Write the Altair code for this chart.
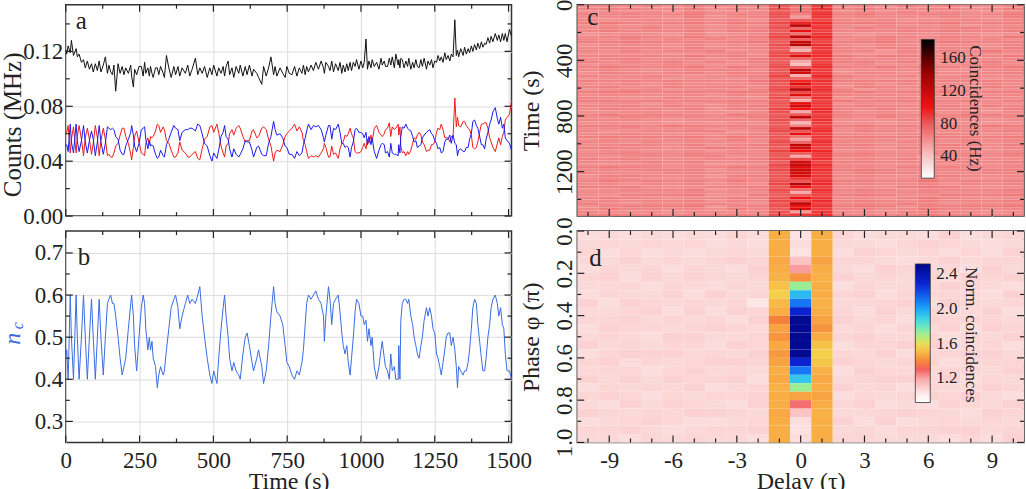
import altair as alt
import pandas as pd

FONT = "Liberation Serif"
INK = "#222222"

# ---------------- (a) and (b): time traces ----------------
nc_t = [0, 3, 8, 15, 19, 26, 35, 39, 45, 53,
        60, 66, 73, 80, 87, 93, 100, 107, 113, 119,
        127, 134, 141, 146, 152, 158, 163, 169, 177, 184,
        191, 197, 203, 212, 220, 223, 229, 233, 240, 248,
        256, 262, 267, 271, 278, 283, 287, 292, 296, 304,
        310, 315, 321, 330, 334, 341, 349, 357, 366, 372,
        380, 386, 394, 405, 413, 420, 428, 439, 447, 454,
        462, 470, 479, 488, 495, 501, 512, 518, 526, 533,
        538, 543, 550, 555, 563, 569, 577, 586, 591, 600,
        608, 614, 622, 631, 636, 647, 653, 664, 670, 679,
        687, 695, 704, 709, 715, 726, 735, 743, 749, 757,
        766, 775, 783, 791, 800, 805, 811, 816, 822, 831,
        839, 847, 856, 865, 873, 876, 881, 890, 895, 901,
        907, 914, 923, 929, 935, 940, 946, 952, 957, 963,
        968, 974, 980, 985, 993, 1000, 1006, 1011, 1017, 1022,
        1027, 1034, 1038, 1045, 1053, 1061, 1068, 1072, 1079, 1083,
        1090, 1096, 1101, 1106, 1113, 1118, 1126, 1128, 1132, 1135,
        1140, 1146, 1152, 1158, 1162, 1169, 1175, 1180, 1186, 1191,
        1197, 1203, 1208, 1214, 1222, 1227, 1233, 1239, 1244, 1250,
        1256, 1261, 1267, 1272, 1278, 1284, 1289, 1295, 1301, 1306,
        1312, 1318, 1323, 1327, 1331, 1338, 1346, 1351, 1357, 1363,
        1368, 1374, 1379, 1385, 1391, 1396, 1402, 1408, 1413, 1419,
        1424, 1430, 1436, 1441, 1447, 1455, 1462, 1467, 1473, 1479,
        1484, 1489, 1495, 1503, 1510]

nc_v = [.45, .47, .40, .60, .50, .40, .60, .50, .40, .50,
        .60, .50, .40, .50, .59, .50, .40, .50, .59, .50,
        .41, .50, .58, .59, .60, .58, .58, .55, .50, .45,
        .41, .43, .45, .52, .58, .60, .55, .48, .42, .50,
        .57, .60, .58, .52, .47, .50, .47, .49, .45, .43,
        .38, .41, .43, .41, .42, .47, .52, .57, .59, .60,
        .57, .52, .55, .58, .60, .58, .59, .58, .60, .62,
        .55, .50, .45, .41, .39, .42, .39, .45, .52, .57,
        .60, .55, .50, .45, .42, .44, .42, .41, .40, .46,
        .50, .51, .48, .44, .42, .45, .47, .43, .39, .42,
        .48, .55, .62, .58, .56, .55, .53, .48, .44, .43,
        .41, .40, .42, .41, .44, .47, .53, .58, .60, .59,
        .60, .61, .59, .58, .55, .49, .55, .62, .59, .53,
        .58, .59, .60, .56, .51, .48, .46, .48, .44, .41,
        .45, .50, .56, .59, .58, .55, .55, .53, .54, .49,
        .52, .48, .50, .43, .40, .43, .47, .49, .45, .43,
        .42, .40, .46, .42, .43, .40, .40, .48, .40, .54,
        .58, .59, .59, .58, .59, .55, .53, .50, .48, .46,
        .45, .48, .50, .54, .57, .55, .57, .55, .52, .51,
        .46, .45, .43, .41, .44, .47, .50, .51, .51, .48,
        .50, .47, .43, .38, .43, .42, .41, .42, .42, .44,
        .47, .52, .57, .59, .58, .53, .49, .45, .42, .42,
        .45, .50, .53, .57, .59, .60, .58, .55, .57, .53,
        .52, .46, .42, .42, .40]

# counts in kHz (shown in MHz)
blue_khz = [51, 52, 47, 67, 54, 46, 67, 55, 47, 55,
            66, 54, 46, 55, 62, 56, 44, 54, 66, 54,
            45, 53, 65, 64, 63, 64, 63, 58, 56, 48,
            45, 45, 51, 56, 61, 66, 59, 51, 47, 53,
            63, 64, 65, 56, 49, 55, 51, 52, 51, 45,
            42, 43, 48, 44, 43, 52, 56, 61, 66, 64,
            63, 55, 61, 63, 63, 64, 64, 62, 67, 66,
            60, 53, 51, 44, 40, 46, 42, 48, 58, 61,
            66, 58, 56, 49, 43, 49, 45, 43, 45, 49,
            55, 54, 54, 48, 43, 50, 51, 45, 44, 44,
            53, 58, 69, 63, 59, 60, 57, 51, 50, 45,
            45, 42, 47, 44, 46, 52, 57, 62, 67, 63,
            66, 65, 66, 63, 57, 54, 59, 66, 66, 56,
            64, 63, 67, 61, 53, 53, 50, 51, 50, 43,
            50, 54, 63, 64, 61, 61, 60, 57, 61, 52,
            58, 52, 57, 47, 42, 48, 52, 53, 52, 46,
            47, 43, 53, 46, 45, 45, 44, 52, 46, 58,
            65, 64, 67, 64, 63, 62, 58, 54, 55, 50,
            51, 52, 57, 59, 61, 62, 63, 60, 59, 55,
            53, 49, 50, 46, 47, 54, 56, 56, 59, 53,
            59, 53, 52, 44, 48, 49, 47, 47, 50, 50,
            56, 60, 69, 70, 66, 64, 58, 52, 52, 49,
            56, 61, 67, 70, 76, 79, 71, 67, 72, 64,
            67, 57, 55, 53, 48]

red_khz = [62, 61, 66, 46, 56, 65, 46, 58, 66, 56,
           44, 57, 64, 56, 45, 53, 66, 57, 44, 55,
           64, 56, 44, 45, 43, 43, 46, 51, 53, 59,
           64, 64, 58, 53, 45, 41, 50, 58, 62, 54,
           46, 45, 44, 53, 57, 52, 58, 57, 58, 62,
           67, 66, 61, 65, 63, 55, 53, 48, 43, 43,
           46, 54, 48, 46, 43, 43, 45, 47, 42, 41,
           49, 56, 58, 65, 66, 61, 67, 61, 51, 46,
           43, 51, 53, 60, 63, 59, 64, 66, 64, 58,
           54, 55, 55, 62, 63, 57, 58, 64, 65, 63,
           56, 51, 40, 46, 48, 47, 52, 58, 60, 62,
           64, 67, 62, 65, 61, 55, 52, 47, 42, 44,
           43, 44, 43, 46, 49, 53, 50, 43, 43, 51,
           45, 46, 42, 49, 53, 54, 59, 58, 60, 64,
           60, 57, 47, 46, 46, 47, 50, 53, 49, 56,
           53, 59, 54, 64, 66, 61, 59, 58, 60, 63,
           64, 68, 58, 65, 63, 64, 67, 59, 65, 51,
           46, 47, 44, 47, 45, 48, 53, 57, 56, 59,
           61, 59, 54, 52, 47, 48, 48, 52, 52, 54,
           61, 64, 63, 67, 63, 57, 57, 57, 54, 58,
           58, 86, 65, 72, 66, 65, 69, 69, 66, 64,
           63, 59, 50, 49, 50, 54, 61, 67, 67, 68,
           68, 64, 57, 54, 50, 47, 53, 57, 52, 58,
           61, 70, 72, 74, 84]

black_khz = [121, 118, 124, 119, 128, 117, 122, 116, 118, 112,
             114, 108, 113, 107, 111, 105, 111, 106, 113, 105,
             110, 116, 104, 110, 105, 103, 110, 91, 111, 104,
             109, 103, 108, 104, 110, 102, 94, 107, 103, 109,
             109, 102, 112, 104, 108, 102, 109, 104, 101, 108,
             108, 103, 109, 104, 101, 117, 108, 101, 109, 103,
             109, 102, 108, 104, 110, 102, 107, 115, 103, 108,
             104, 109, 101, 108, 103, 110, 102, 108, 104, 109,
             102, 109, 113, 103, 108, 101, 109, 104, 110, 102,
             109, 103, 110, 102, 107, 104, 101, 96, 109, 102,
             108, 116, 103, 109, 102, 108, 104, 101, 109, 104,
             103, 109, 102, 108, 104, 110, 103, 109, 105, 110,
             106, 112, 107, 113, 108, 104, 112, 109, 106, 113,
             105, 111, 106, 112, 104, 110, 105, 111, 106, 112,
             106, 112, 109, 114, 107, 113, 108, 112, 129, 107,
             113, 108, 114, 109, 112, 107, 115, 110, 113, 109,
             109, 115, 110, 116, 108, 118, 110, 114, 108, 115,
             114, 108, 113, 109, 115, 107, 112, 108, 114, 109,
             108, 114, 109, 115, 107, 113, 110, 114, 108, 113,
             112, 117, 113, 116, 112, 119, 114, 117, 113, 118,
             116, 143, 117, 121, 116, 122, 117, 123, 118, 122,
             119, 124, 120, 125, 121, 126, 122, 127, 123, 126,
             125, 130, 126, 131, 127, 133, 128, 132, 127, 133,
             128, 133, 127, 136, 131]

time_major = [0, 250, 500, 750, 1000, 1250, 1500]
time_minor = [125, 375, 625, 875, 1125, 1375]
a_y_major = [0.00, 0.04, 0.08, 0.12]
a_y_minor = [0.02, 0.06, 0.10, 0.14]
b_y_major = [0.3, 0.4, 0.5, 0.6, 0.7]
b_y_minor = [0.35, 0.45, 0.55, 0.65]

# ---------------- (c): coincidences vs delay and time (20 s rows) ----------------
delays = list(range(-10, 11))
c_row_s = 20
# background columns (delays -10..-2 and 2..10), one digit per cell: Hz = 54 + 2*digit
c_bg_rows = [
    "454536445453645435", "565446354564455346", "343425334343534324", "656557465675566457",
    "445436345454435436", "534545453545344545", "676567576676567566", "343434243435334234",
    "454645355464545645", "565556466555656556", "234325234323434323", "456547456546546547",
    "545454545456455454", "667656567667567656", "344435344435434435", "455546455546545546",
    "546455634552546475", "334323453322433343", "565657564757665657", "456445356544456345",
    "645564546664645464", "343454234453343554", "576567476657576467", "454345554344453345",
    "365456465355364456", "544543455644543544", "233423324432234423", "656565557666656565",
    "445354445453544354", "564465564365465465", "345534435624345434", "677566576675667566",
    "454445354545454445", "543354443354534354", "665656566756665646", "344243354343344243",
    "556465456565556465", "465546365546465536", "334434324534343424", "575665476656575765",
    "446545446546445545", "555434555443554434", "343323243332353323", "666576565675656576",
    "455445356454465445", "534556634465534556", "445434345443455434", "676667576676686667",
    "354445364454354545", "543534443543553534", "456546356564466546", "665545765554655545",
    "344334244343354334", "565657465675575657", "434545534554424545", "656444556454646444",
    "545656445665555656", "333434233443343434", "676545576554666545", "455666355676465666",
    "544455444465554455", "366545266554376545", "454334354343464334", "575656475665585656",
    "443545343554453545", "666434566443676434", "345556245565355556", "554445454454564445",
    "436667336676446667", "565434465443575434", "454556354565464556", "643445543454653445",
    "356667256676366667", "465545365554475545", "544434444443554434", "676656676665676656",
]
c_m1 = [80, 82, 79, 84, 81, 78, 85, 80, 83, 79, 82, 86, 80, 78, 84, 81, 79, 83, 85, 80,
        78, 82, 84, 80, 81, 86, 79, 83, 80, 82, 85, 79, 81, 84, 78, 82, 80, 86, 83, 79,
        81, 84, 80, 78, 83, 85, 79, 82, 80, 84, 81, 79, 86, 82, 80, 83, 78, 84, 81, 85,
        80, 82, 79, 83, 86, 80, 84, 81, 78, 82, 85, 80, 83, 79, 82, 84]
c_0 = [70, 68, 72, 66, 55, 80, 95, 125, 75, 105, 70, 125, 80, 120, 130, 60, 48, 85, 110, 75,
       50, 42, 80, 125, 115, 48, 75, 95, 110, 90, 130, 85, 110, 70, 50, 105, 115, 100, 50, 80,
       125, 75, 45, 65, 125, 80, 105, 70, 55, 75, 125, 115, 100, 80, 50, 85, 115, 120, 110, 118,
       115, 112, 90, 80, 130, 100, 75, 50, 80, 100, 85, 125, 100, 110, 55, 90]
c_p1 = [88, 90, 87, 92, 89, 86, 93, 88, 91, 87, 90, 94, 88, 86, 92, 89, 87, 91, 93, 88,
        86, 90, 92, 88, 89, 94, 87, 91, 88, 90, 93, 87, 89, 92, 86, 90, 88, 94, 91, 87,
        89, 92, 88, 86, 91, 93, 87, 90, 88, 92, 89, 87, 94, 90, 88, 91, 86, 92, 89, 93,
        88, 90, 87, 91, 94, 88, 92, 89, 86, 90, 93, 88, 91, 87, 90, 92]
c_y_major = [0, 400, 800, 1200]
c_y_minor = [200, 600, 1000, 1400]
c_legend_values = [40, 80, 120, 160]

# ---------------- (d): normalised coincidences vs delay and phase (0.04 pi rows) ----------------
d_row = 0.04
# background columns, one digit per cell: value = 1.03 + 0.01*digit
d_bg_rows = [
    "343434353534436345", "454545343443565434", "535343454365453536", "446454565554346455",
    "354535436436545364", "563646545645453656", "445354354354446543", "354463645563545436",
    "636545451445636545", "445636365536454463", "556454536645365554", "365545654453546365",
    "454366445564453546", "645455365355664453", "356664546546355664", "563545665654563455",
    "455356454365445546", "646465563456646354", "354546345645354465", "565354556354565643",
    "436465436563436546", "654546654445654365", "345653345636345454", "556434556453556645",
    "443545443554443536",
]
d_m1 = [1.47, 1.47, 1.47, 1.46, 1.47, 1.48, 1.52, 1.55, 1.50, 1.47, 1.38, 1.45, 1.42,
        1.46, 1.43, 1.45, 1.47, 1.46, 1.48, 1.47, 1.47, 1.46, 1.47, 1.47, 1.47]
d_0 = [1.05, 1.06, 1.05, 1.12, 1.22, 1.42, 1.72, 1.95, 2.10, 2.30, 2.50, 2.50, 2.50,
       2.50, 2.50, 2.30, 2.10, 1.92, 1.72, 1.45, 1.28, 1.12, 1.06, 1.05, 1.06]
d_p1 = [1.47, 1.47, 1.47, 1.45, 1.47, 1.48, 1.47, 1.47, 1.48, 1.47, 1.45, 1.42, 1.47,
        1.52, 1.55, 1.53, 1.48, 1.46, 1.47, 1.45, 1.47, 1.48, 1.47, 1.47, 1.47]
d_y_major = [0.0, 0.2, 0.4, 0.6, 0.8, 1.0]
d_y_minor = [0.1, 0.3, 0.5, 0.7, 0.9]
d_legend_values = [1.2, 1.6, 2.0, 2.4]

delay_major = [-9, -6, -3, 0, 3, 6, 9]
delay_minor = [-10, -8, -7, -5, -4, -2, -1, 1, 2, 4, 5, 7, 8, 10]

panel_letters = ["a", "b", "c", "d"]

# ---------------- sizes ----------------
WL, WR, H = 447, 448, 212
LAB = 23      # tick label size
TIT = 24      # axis title size
PLAIN = "'' + datum.value"   # plain numbers, hyphen minus, no thousands separator


def inner_ticks(xscale, yscale, W, Hh, xmaj, xmin, ymaj, ymin):
    layers = []
    for vals, L in ((xmaj, 7), (xmin, 4)):
        base = alt.Chart(pd.DataFrame({"tv": vals})).mark_rule(color=INK, strokeWidth=1.2)
        enc_x = alt.X("tv:Q", scale=xscale, axis=None)
        layers.append(base.encode(x=enc_x, y=alt.value(0), y2=alt.value(L)))
        layers.append(base.encode(x=enc_x, y=alt.value(Hh), y2=alt.value(Hh - L)))
    for vals, L in ((ymaj, 7), (ymin, 4)):
        base = alt.Chart(pd.DataFrame({"tv": vals})).mark_rule(color=INK, strokeWidth=1.2)
        enc_y = alt.Y("tv:Q", scale=yscale, axis=None)
        layers.append(base.encode(y=enc_y, x=alt.value(0), x2=alt.value(L)))
        layers.append(base.encode(y=enc_y, x=alt.value(W), x2=alt.value(W - L)))
    return layers


def text_at(txt, x, y, size, color=INK, angle=0, align="left", baseline="alphabetic", style="normal"):
    return alt.Chart(pd.DataFrame({"s": [txt]})).mark_text(
        font=FONT, fontSize=size, color=color, angle=angle, align=align,
        baseline=baseline, fontStyle=style
    ).encode(x=alt.value(x), y=alt.value(y), text="s:N")


# ---------------- panel a ----------------
xs_t = alt.Scale(domain=[0, 1510], nice=False, zero=False)
ys_a = alt.Scale(domain=[0, 0.154], nice=False, zero=False)

layers_a = []
for name, arr, col in (("red", red_khz, "#ee1a1a"), ("blue", blue_khz, "#1a1aee"), ("black", black_khz, "#111111")):
    df = pd.DataFrame([(t, v / 1000.0) for t, v in zip(nc_t, arr)], columns=["t", "val"])
    show_axis = (name == "red")
    layers_a.append(
        alt.Chart(df).mark_line(color=col, strokeWidth=1.0).encode(
            x=alt.X("t:Q", scale=xs_t,
                    axis=alt.Axis(values=time_major, labels=False, grid=True, title=None) if show_axis else None),
            y=alt.Y("val:Q", scale=ys_a,
                    axis=alt.Axis(values=a_y_major, format=".2f", grid=True, title="Counts (MHz)",
                                  labelPadding=3, titlePadding=-3, titleFontSize=25,
                                  titleY=120) if show_axis else None),
        )
    )
pa = alt.layer(
    *layers_a,
    *inner_ticks(xs_t, ys_a, WL, H, time_major, time_minor, a_y_major, a_y_minor),
    text_at(panel_letters[0], 10, 24, 25),
).resolve_axis(x="independent", y="independent").properties(width=WL, height=H)

# ---------------- panel b ----------------
ys_b = alt.Scale(domain=[0.25, 0.752], nice=False, zero=False)
dfb = pd.DataFrame(list(zip(nc_t, nc_v)), columns=["t", "nc"])
line_b = alt.Chart(dfb).mark_line(color="#3b6be3", strokeWidth=1.0).encode(
    x=alt.X("t:Q", scale=xs_t,
            axis=alt.Axis(values=time_major, labelExpr=PLAIN, grid=True, title="Time (s)",
                          labelPadding=7, titlePadding=-3, titleFontSize=TIT)),
    y=alt.Y("nc:Q", scale=ys_b,
            axis=alt.Axis(values=b_y_major, format=".1f", grid=True, title=None, labelPadding=3)),
)
pb = alt.layer(
    line_b,
    *inner_ticks(xs_t, ys_b, WL, H, time_major, time_minor, b_y_major, b_y_minor),
    text_at(panel_letters[1], 12, 34, 25),
    text_at("n", -53, 108, 24, color="#3b6be3", angle=270, align="center", baseline="middle", style="italic"),
    text_at("c", -48, 95, 16, color="#3b6be3", angle=270, align="center", baseline="middle", style="italic"),
).resolve_axis(x="independent", y="independent").properties(width=WL, height=H)

# ---------------- panel c ----------------
bg_cols = [d for d in delays if abs(d) > 1]
c_cells = []
for i, s in enumerate(c_bg_rows):
    for dl, ch in zip(bg_cols, s):
        c_cells.append((dl, i, 54 + 2 * int(ch)))
for dl, col in ((-1, c_m1), (0, c_0), (1, c_p1)):
    for i, v in enumerate(col):
        c_cells.append((dl, i, v))
dfc = pd.DataFrame(c_cells, columns=["dl", "row", "hz"])
dfc["x0"] = dfc["dl"] - 0.5
dfc["x1"] = dfc["dl"] + 0.5
dfc["y0"] = dfc["row"] * c_row_s
dfc["y1"] = dfc["y0"] + c_row_s

xs_d = alt.Scale(domain=[-10.5, 10.5], nice=False, zero=False)
ys_c = alt.Scale(domain=[0, 1520], nice=False, zero=False, reverse=True)
c_scale = alt.Scale(domain=[13, 40, 60, 80, 100, 140, 183],
                    range=["#ffffff", "#f8c4c4", "#f29090", "#ec5a5a", "#f01212", "#a00000", "#000000"],
                    interpolate="rgb")
rect_c = alt.Chart(dfc).mark_rect().encode(
    x=alt.X("x0:Q", scale=xs_d, axis=alt.Axis(values=delay_major, labels=False, title=None)),
    x2="x1:Q",
    y=alt.Y("y0:Q", scale=ys_c,
            axis=alt.Axis(values=c_y_major, labelExpr=PLAIN, title="Time (s)", labelAngle=270,
                          labelAlign="center", labelBaseline="alphabetic", labelPadding=6,
                          titlePadding=10, titleFontSize=TIT)),
    y2="y1:Q",
    color=alt.Color("hz:Q", scale=c_scale,
                    legend=alt.Legend(type="gradient", orient="none", legendX=345, legendY=35,
                                      direction="vertical", gradientLength=139,
                                      gradientThickness=13, title=None,
                                      values=c_legend_values, labelFontSize=17, labelOffset=6,
                                      gradientStrokeColor="#333333", gradientStrokeWidth=0.8)),
)
pc = alt.layer(
    rect_c,
    *inner_ticks(xs_d, ys_c, WR, H, delay_major, delay_minor, c_y_major, c_y_minor),
    text_at(panel_letters[2], 10, 20, 25),
    text_at("Coincidences (Hz)", 399, 104, 17, angle=90, align="center", baseline="middle"),
).resolve_axis(x="independent", y="independent").properties(width=WR, height=H)

# ---------------- panel d ----------------
d_cells = []
for i, s in enumerate(d_bg_rows):
    for dl, ch in zip(bg_cols, s):
        d_cells.append((dl, i, round(1.03 + 0.01 * int(ch), 3)))
for dl, col in ((-1, d_m1), (0, d_0), (1, d_p1)):
    for i, v in enumerate(col):
        d_cells.append((dl, i, v))
dfd = pd.DataFrame(d_cells, columns=["dl", "row", "norm"])
dfd["x0"] = dfd["dl"] - 0.5
dfd["x1"] = dfd["dl"] + 0.5
dfd["y0"] = dfd["row"] * d_row
dfd["y1"] = dfd["y0"] + d_row

ys_d = alt.Scale(domain=[0, 1.0], nice=False, zero=False, reverse=True)
d_scale = alt.Scale(
    domain=[0.92, 1.03, 1.12, 1.22, 1.30, 1.38, 1.47, 1.58, 1.70, 1.85, 2.00, 2.15, 2.30, 2.52],
    range=["#ffffff", "#fdeaea", "#fbc4c4", "#f89c9c", "#f46060", "#f5803a", "#f9ad45",
           "#f2dc4c", "#a8ee8a", "#48e4e0", "#1ea6f8", "#1060f0", "#0a22d0", "#00088a"],
    interpolate="rgb")
rect_d = alt.Chart(dfd).mark_rect().encode(
    x=alt.X("x0:Q", scale=xs_d,
            axis=alt.Axis(values=delay_major, labelExpr=PLAIN, title="Delay (τ)", labelPadding=7,
                          titlePadding=-3, titleFontSize=TIT)),
    x2="x1:Q",
    y=alt.Y("y0:Q", scale=ys_d,
            axis=alt.Axis(values=d_y_major, format=".1f", title="Phase φ (π)", labelAngle=270,
                          labelAlign="center", labelBaseline="alphabetic", labelPadding=6,
                          titlePadding=10, titleFontSize=TIT)),
    y2="y1:Q",
    color=alt.Color("norm:Q", scale=d_scale,
                    legend=alt.Legend(type="gradient", orient="none", legendX=339, legendY=33,
                                      direction="vertical", gradientLength=139,
                                      gradientThickness=15, title=None,
                                      values=d_legend_values, format=".1f", labelFontSize=17,
                                      labelOffset=6, gradientStrokeColor="#333333",
                                      gradientStrokeWidth=0.8)),
)
pdd = alt.layer(
    rect_d,
    *inner_ticks(xs_d, ys_d, WR, H, delay_major, delay_minor, d_y_major, d_y_minor),
    text_at(panel_letters[3], 12, 35, 25),
    text_at("Norm. coincidences", 395, 104, 17, angle=90, align="center", baseline="middle"),
).resolve_axis(x="independent", y="independent").properties(width=WR, height=H)

chart = alt.concat(
    pa, pc, pb, pdd, columns=2, spacing={"row": 15, "column": 66}, bounds="flush"
).resolve_scale(
    color="independent"
).resolve_legend(
    color="independent"
).properties(
    padding={"left": 0, "top": -3, "right": 0, "bottom": 0}, background="white"
).configure(
    font=FONT
).configure_view(
    stroke="#333333", strokeWidth=1.5
).configure_axis(
    labelFont=FONT, titleFont=FONT, labelColor=INK, titleColor=INK, labelFontSize=LAB,
    titleFontWeight="normal", labelFlush=False, ticks=False, tickSize=0, domain=False,
    gridColor="#dcdcdc", gridWidth=1, labelOverlap=False
).configure_legend(
    labelFont=FONT, labelColor=INK
)

chart.save("out.html", embed_options={"renderer": "svg", "actions": False})
